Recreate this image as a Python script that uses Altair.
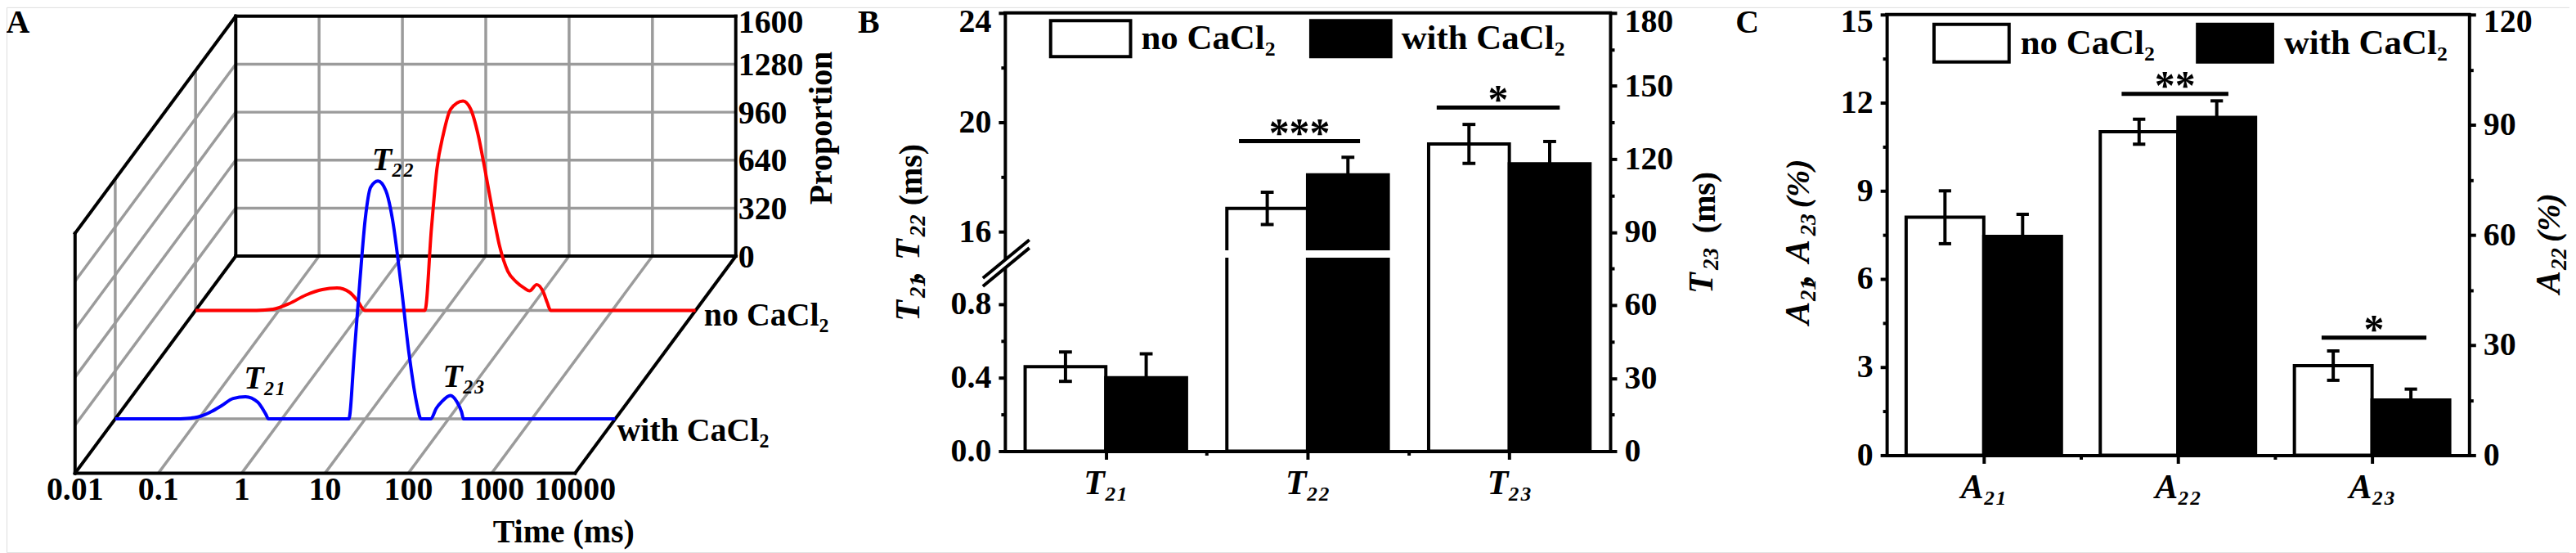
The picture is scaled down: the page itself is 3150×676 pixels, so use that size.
import json
import math
import altair as alt
import pandas as pd

OFF = 8                      # page margin: chart coordinate = reference pixel - OFF
W, H = 3150 - OFF, 676 - OFF
FONT = "Liberation Serif"
GRAY = "#9b9b9b"


def P(v):
    return v - OFF


# ======================= DATA =======================
# ---- Panel A : T2 relaxation spectra ----
time_ticks = [0.01, 0.1, 1, 10, 100, 1000, 10000]
time_tick_labels = ["0.01", "0.1", "1", "10", "100", "1000", "10000"]
prop_ticks = [0, 320, 640, 960, 1280, 1600]
prop_tick_labels = ["0", "320", "640", "960", "1280", "1600"]
series_names = ["no CaCl₂", "with CaCl₂"]
series_depth = [0.75, 0.25]
series_colors = ["#ff0000", "#0000ff"]
series_label_t = [12600, 10500]
series_label_p = [-38, -82]

red_t = [0.01, 0.054, 0.085, 0.134, 0.21, 0.331, 0.497, 0.703, 0.883, 1.07,
         5.65, 6.76, 7.87, 9.42, 11.5, 16.2, 20.0, 24.4, 29.6, 36.6, 44.6,
         55.8, 70.1, 87.9, 102, 124, 149, 166, 182, 10000]
red_p = [0, 0, 8, 46, 102, 139, 149, 121, 62, 0,
         0, 544, 943, 1178, 1342, 1396, 1342, 1178, 943, 662, 426,
         261, 191, 149, 130, 172, 121, 51, 0, 0]
blue_t = [0.01, 0.05, 0.0726, 0.106, 0.143, 0.19, 0.26, 0.366, 0.512, 0.641, 0.69,
          6.35, 7.4, 8.6, 10.0, 11.6, 14.2, 17.7, 21.2, 26.7, 33.4, 41.9, 46.6,
          61.2, 71.1, 82.6, 105, 126, 143, 151, 10000]
blue_p = [0, 0, 3, 18, 49, 89, 136, 148, 112, 31, 0,
          0, 442, 911, 1333, 1545, 1587, 1521, 1333, 911, 442, 90, 0,
          0, 70, 114, 156, 114, 47, 0, 0]
peak_labels = ["T₂₁", "T₂₂", "T₂₃"]
peak_label_t = [0.63, 21.6, 153]
peak_label_p = [269, 1722, 280]

# ---- Panel B : relaxation times ----
b_cats = ["T₂₁", "T₂₂", "T₂₃"]
b_sides = ["left", "left", "right"]
b_no_mean = [0.46, 16.85, 126.2]
b_no_sd = [0.08, 0.59, 8.0]
b_with_mean = [0.40, 18.08, 118.0]
b_with_sd = [0.13, 0.64, 9.2]
b_sig_labels = ["***", "*"]
b_sig_x1 = [1.16, 2.14]
b_sig_x2 = [1.76, 2.75]
b_sig_y = [19.31, 141.1]
b_sig_side = ["left", "right"]
b_left_ticks = [0, 0.4, 0.8, 16, 20, 24]
b_left_minor = [0.2, 0.6, 18, 22]
b_right_ticks = [0, 30, 60, 90, 120, 150, 180]
b_right_minor = [15, 45, 75, 105, 135, 165]

# ---- Panel C : peak areas ----
c_cats = ["A₂₁", "A₂₂", "A₂₃"]
c_sides = ["left", "right", "left"]
c_no_mean = [8.1, 88.1, 3.05]
c_no_sd = [0.9, 3.4, 0.5]
c_with_mean = [7.45, 92.0, 1.88]
c_with_sd = [0.75, 4.5, 0.37]
c_sig_labels = ["**", "*"]
c_sig_x1 = [1.21, 2.24]
c_sig_x2 = [1.76, 2.78]
c_sig_y = [98.4, 4.0]
c_sig_side = ["right", "left"]
c_left_ticks = [0, 3, 6, 9, 12, 15]
c_left_minor = [1.5, 4.5, 7.5, 10.5, 13.5]
c_right_ticks = [0, 30, 60, 90, 120]
c_right_minor = [15, 45, 75, 105]

units = []   # every unit chart, layered flat at the end

# ======================= PANEL A =======================
A_FRONT_LEFT, A_FRONT_RIGHT, A_BACK_LEFT = 92, 705, 289
A_FRONT_BOTTOM, A_BACK_BOTTOM, A_BACK_TOP = 579, 313, 19
LT0, LT1 = math.log10(time_ticks[0]), math.log10(time_ticks[-1])
PMAX = prop_ticks[-1]
DEC = (A_FRONT_RIGHT - A_FRONT_LEFT) / (LT1 - LT0)
DX = (A_BACK_LEFT - A_FRONT_LEFT) / DEC
UNIT = (A_BACK_BOTTOM - A_BACK_TOP) / PMAX
DY = (A_FRONT_BOTTOM - A_BACK_BOTTOM) / UNIT


def xsA():
    return alt.Scale(domain=[LT0, LT1 + DX],
                     range=[P(A_FRONT_LEFT), P(A_FRONT_LEFT) + (LT1 - LT0 + DX) * DEC],
                     nice=False, zero=False)


def ysA():
    return alt.Scale(domain=[0, PMAX + DY],
                     range=[P(A_FRONT_BOTTOM), P(A_FRONT_BOTTOM) - (PMAX + DY) * UNIT],
                     nice=False, zero=False)


inner_lt = [math.log10(t) for t in time_ticks[1:-1]]
inner_p = prop_ticks[1:-1]
gray_segs = []
for v in inner_p:
    gray_segs.append((LT0, v, 1, LT1, v, 1))      # back wall
    gray_segs.append((LT0, v, 0, LT0, v, 1))      # left wall
for lt in inner_lt:
    gray_segs.append((lt, 0, 1, lt, PMAX, 1))     # back wall verticals
    gray_segs.append((lt, 0, 0, lt, 0, 1))        # floor
for d in series_depth:
    gray_segs.append((LT0, 0, d, LT0, PMAX, d))   # left wall verticals
    gray_segs.append((LT0, 0, d, LT1, 0, d))      # floor rows
black_segs = [
    (LT0, 0, 1, LT1, 0, 1), (LT0, PMAX, 1, LT1, PMAX, 1),
    (LT0, 0, 1, LT0, PMAX, 1), (LT1, 0, 1, LT1, PMAX, 1),
    (LT0, PMAX, 0, LT0, PMAX, 1), (LT0, 0, 0, LT0, PMAX, 0),
    (LT0, 0, 0, LT0, 0, 1), (LT0, 0, 0, LT1, 0, 0), (LT1, 0, 0, LT1, 0, 1),
]


def seg_layer(segs, color, width, cap):
    df = pd.DataFrame(segs, columns=["lt1", "v1", "d1", "lt2", "v2", "d2"])
    return alt.Chart(df).transform_calculate(
        X1=f"datum.lt1 + datum.d1 * {DX}", Y1=f"datum.v1 + datum.d1 * {DY}",
        X2=f"datum.lt2 + datum.d2 * {DX}", Y2=f"datum.v2 + datum.d2 * {DY}",
    ).mark_rule(color=color, strokeWidth=width, strokeCap=cap).encode(
        x=alt.X("X1:Q", scale=xsA(), axis=None), y=alt.Y("Y1:Q", scale=ysA(), axis=None),
        x2="X2:Q", y2="Y2:Q")


def curve_layer(ts, ps, depth, color):
    df = pd.DataFrame({"t": ts, "p": ps, "depth": depth})
    return alt.Chart(df).transform_calculate(
        X=f"log(datum.t) / LN10 + datum.depth * {DX}", Y=f"datum.p + datum.depth * {DY}",
    ).mark_line(color=color, strokeWidth=4, interpolate="monotone").encode(
        x=alt.X("X:Q", scale=xsA(), axis=None), y=alt.Y("Y:Q", scale=ysA(), axis=None))


def proj_text(df, italic=False, **kw):
    mk = dict(font=FONT, fontSize=40, fontWeight="bold", color="black")
    if italic:
        mk["fontStyle"] = "italic"
    mk.update(kw)
    return alt.Chart(df).transform_calculate(
        X=f"log(datum.t) / LN10 + datum.depth * {DX}", Y=f"datum.p + datum.depth * {DY}",
    ).mark_text(**mk).encode(
        x=alt.X("X:Q", scale=xsA(), axis=None), y=alt.Y("Y:Q", scale=ysA(), axis=None),
        text="label:N")


def fixed_text(text, x, y, size=40, angle=None, italic=False, align="center", baseline="middle"):
    mk = dict(font=FONT, fontSize=size, fontWeight="bold", align=align, baseline=baseline, color="black")
    if italic:
        mk["fontStyle"] = "italic"
    if angle:
        mk["angle"] = angle
    return alt.Chart(pd.DataFrame({"label": [text]})).mark_text(**mk).encode(
        x=alt.value(P(x)), y=alt.value(P(y)), text="label:N")


def rotated_rich(pieces):
    """pieces: (text, size, italic, bottom_y, baseline_x) -> text read bottom-to-top."""
    return [fixed_text(t, bx, by, size=s, angle=270, italic=it, align="left", baseline="alphabetic")
            for (t, s, it, by, bx) in pieces]


tick_df = pd.DataFrame({"t": time_ticks, "label": time_tick_labels, "p": 0, "depth": 0})
prop_df = pd.DataFrame({"t": time_ticks[-1], "label": prop_tick_labels, "p": prop_ticks, "depth": 1})
ser_df = pd.DataFrame({"t": series_label_t, "label": series_names, "p": series_label_p,
                       "depth": series_depth})
peak_df = pd.DataFrame({"t": peak_label_t, "label": peak_labels, "p": peak_label_p,
                        "depth": series_depth[1]})

units += [
    seg_layer(gray_segs, GRAY, 3.5, "butt"),
    seg_layer(black_segs, "black", 4, "square"),
    curve_layer(red_t, red_p, series_depth[0], series_colors[0]),
    curve_layer(blue_t, blue_p, series_depth[1], series_colors[1]),
    proj_text(tick_df, baseline="middle", dy=20.5),
    proj_text(prop_df.iloc[:-1], align="left", baseline="middle", dx=3, dy=1.5),
    proj_text(prop_df.iloc[-1:], align="left", baseline="middle", dx=3, dy=8),
    proj_text(ser_df, align="left", baseline="middle"),
    proj_text(peak_df, italic=True, align="center", baseline="middle"),
    fixed_text("Proportion", 1008, 156, angle=270),
    fixed_text("Time (ms)", 691, 652),
]

# ======================= BAR PANELS =======================
BW = 0.4
CAP = 0.032


def axis(orient, offset, values, labels=True, domain=True, tick_size=8, label_expr=None,
         italic=False, size=40, pad=9, top_value=None, top_shift=0):
    kw = dict(orient=orient, offset=offset, values=values, labels=labels, domain=domain,
              ticks=True, tickSize=tick_size, tickWidth=4, tickColor="black",
              domainColor="black", domainWidth=4, domainCap="square",
              labelFont=FONT, labelFontSize=size, labelFontWeight="bold", labelColor="black",
              labelPadding=pad, grid=False, title=None, labelOverlap=False, labelFlush=False)
    if label_expr:
        kw["labelExpr"] = label_expr
    if italic:
        kw["labelFontStyle"] = "italic"
    if top_value is not None:
        kw["labelOffset"] = {"condition": {"test": f"datum.value == {top_value}", "value": top_shift},
                             "value": 0}
    return alt.Axis(**kw)


def legend(box_left, box_cy, box_w, box_h, lab_off, col_pad):
    r = box_h / box_w
    return alt.Legend(orient="none", legendX=P(box_left) - 2, legendY=P(box_cy) - (box_w + 4) / 2,
                      direction="horizontal", columns=2, title=None,
                      symbolType=f"M-1,-{r:.3f}H1V{r:.3f}H-1Z", symbolSize=box_w ** 2,
                      symbolStrokeColor="black", symbolStrokeWidth=4, symbolOpacity=1,
                      labelFont=FONT, labelFontSize=43, labelFontWeight="bold", labelColor="black",
                      labelOffset=lab_off, columnPadding=col_pad, padding=0, labelLimit=0,
                      offset=0, rowPadding=0)


def bar_df(cats, sides, nm, ns, wm, ws):
    rows = []
    for i, c in enumerate(cats):
        for k, (m, s) in enumerate([(nm[i], ns[i]), (wm[i], ws[i])]):
            rows.append(dict(i=i, cat=c, cond=series_names[k], k=k, m=m, s=s, side=sides[i]))
    return pd.DataFrame(rows)


def bar_units(df, side, xs, ys, yax, xax, leg, sig_df, after_bars=()):
    """xs, ys: functions returning fresh scale objects."""
    base = alt.Chart(df).transform_filter(alt.datum.side == side).transform_calculate(
        x1=f"datum.i + 0.5 + (datum.k - 1) * {BW}",
        x2=f"datum.i + 0.5 + datum.k * {BW}",
        xc=f"datum.i + 0.5 + (datum.k - 0.5) * {BW}",
        cl=f"datum.i + 0.5 + (datum.k - 0.5) * {BW} - {CAP}",
        cr=f"datum.i + 0.5 + (datum.k - 0.5) * {BW} + {CAP}",
        lo="datum.m - datum.s", hi="datum.m + datum.s", zero="0")
    bars = base.mark_bar(stroke="black", strokeWidth=4, strokeJoin="miter").encode(
        x=alt.X("x1:Q", scale=xs(), axis=xax), x2="x2:Q",
        y=alt.Y("m:Q", scale=ys(), axis=yax), y2="zero:Q",
        fill=alt.Fill("cond:N", scale=alt.Scale(domain=series_names, range=["white", "black"]),
                      legend=leg))
    err = base.mark_rule(color="black", strokeWidth=4).encode(
        x=alt.X("xc:Q", scale=xs(), axis=None), y=alt.Y("lo:Q", scale=ys(), axis=None), y2="hi:Q")
    cap_hi = base.mark_rule(color="black", strokeWidth=4).encode(
        x=alt.X("cl:Q", scale=xs(), axis=None), x2="cr:Q", y=alt.Y("hi:Q", scale=ys(), axis=None))
    cap_lo = base.mark_rule(color="black", strokeWidth=4).encode(
        x=alt.X("cl:Q", scale=xs(), axis=None), x2="cr:Q", y=alt.Y("lo:Q", scale=ys(), axis=None))
    sig = alt.Chart(sig_df).transform_filter(alt.datum.side == side).transform_calculate(
        xm="(datum.x1 + datum.x2) / 2")
    sig_rule = sig.mark_rule(color="black", strokeWidth=5).encode(
        x=alt.X("x1:Q", scale=xs(), axis=None), x2="x2:Q", y=alt.Y("y:Q", scale=ys(), axis=None))
    sig_text = sig.mark_text(font=FONT, fontSize=50, fontWeight="bold", color="black",
                             baseline="alphabetic", dy=6).encode(
        x=alt.X("xm:Q", scale=xs(), axis=None), y=alt.Y("y:Q", scale=ys(), axis=None), text="label:N")
    return [bars] + [f(xs, ys) for f in after_bars] + [err, cap_hi, cap_lo, sig_rule, sig_text]


def frame_top(xs, ys, n, top):
    return alt.Chart(pd.DataFrame({"x1": [0], "x2": [n], "y": [top]})).mark_rule(
        color="black", strokeWidth=4, strokeCap="square").encode(
        x=alt.X("x1:Q", scale=xs(), axis=None), x2="x2:Q", y=alt.Y("y:Q", scale=ys(), axis=None))


def minor_y(vals, ys, orient, offset):
    return alt.Chart(pd.DataFrame({"v": vals})).mark_point(opacity=0).encode(
        y=alt.Y("v:Q", scale=ys(), axis=axis(orient, offset, vals, labels=False, domain=False,
                                              tick_size=5)))


def minor_x(vals, xs, offset):
    return alt.Chart(pd.DataFrame({"v": vals})).mark_point(opacity=0).encode(
        x=alt.X("v:Q", scale=xs(), axis=axis("bottom", offset, vals, labels=False, domain=False,
                                              tick_size=5)))


def sig_frame(labels, x1, x2, y, side):
    return pd.DataFrame({"label": labels, "x1": x1, "x2": x2, "y": y, "side": side})


# ---- Panel B ----
B_LEFT, B_RIGHT, B_BOTTOM, B_TOP = 1232, 1974, 552, 15
B_Y_08, B_Y_16 = 372, 283          # reference rows of the 0.8 and 16 ticks
B_GAP_TOP, B_GAP_BOT = 306, 315     # white break band
low_ppu = (B_BOTTOM - B_Y_08) / b_left_ticks[2]
up_ppu = (B_Y_16 - B_TOP) / (b_left_ticks[-1] - b_left_ticks[3])
B_BRK_LO = (B_BOTTOM - B_GAP_BOT) / low_ppu
B_BRK_HI = b_left_ticks[3] - (B_GAP_TOP - B_Y_16) / up_ppu
nB = len(b_cats)


def xsB():
    return alt.Scale(domain=[0, nB], range=[P(B_LEFT), P(B_RIGHT)], nice=False, zero=False)


def ysBL():
    return alt.Scale(domain=[0, B_BRK_LO, B_BRK_HI, b_left_ticks[-1]],
                     range=[P(B_BOTTOM), P(B_GAP_BOT), P(B_GAP_TOP), P(B_TOP)],
                     nice=False, zero=False)


def ysBR():
    return alt.Scale(domain=[0, b_right_ticks[-1]], range=[P(B_BOTTOM), P(B_TOP)],
                     nice=False, zero=False)


dfB = bar_df(b_cats, b_sides, b_no_mean, b_no_sd, b_with_mean, b_with_sd)
sigB = sig_frame(b_sig_labels, b_sig_x1, b_sig_x2, b_sig_y, b_sig_side)
cat_exprB = json.dumps(b_cats, ensure_ascii=False) + "[floor(datum.value)]"
cat_exprC = json.dumps(c_cats, ensure_ascii=False) + "[floor(datum.value)]"
centers = [i + 0.5 for i in range(nB)]
bounds = [i for i in range(1, nB)]

gap_i = 1
gapB = pd.DataFrame({"x1": [gap_i + 0.5 - BW - 0.03], "x2": [gap_i + 0.5 + BW + 0.03],
                     "y1": [B_BRK_LO], "y2": [B_BRK_HI]})


def gap_layer(xs, ys):
    return alt.Chart(gapB).mark_rect(color="white").encode(
        x=alt.X("x1:Q", scale=xs(), axis=None), x2="x2:Q",
        y=alt.Y("y1:Q", scale=ys(), axis=None), y2="y2:Q")


brk = pd.DataFrame({"x": [0], "y": [B_BRK_LO]})
brk_white = alt.Chart(brk).mark_point(shape="M-0.95,1.05L1.05,-0.6", size=3249, filled=False,
                                      stroke="white", strokeWidth=6, opacity=1).encode(
    x=alt.X("x:Q", scale=xsB(), axis=None), y=alt.Y("y:Q", scale=ysBL(), axis=None))
brk_black = alt.Chart(brk).mark_point(shape="M-0.95,0.88L1.05,-0.77M-0.95,1.23L1.05,-0.42",
                                      size=3249, filled=False, stroke="black", strokeWidth=4,
                                      opacity=1).encode(
    x=alt.X("x:Q", scale=xsB(), axis=None), y=alt.Y("y:Q", scale=ysBL(), axis=None))

yaxBL = axis("left", -P(B_LEFT), b_left_ticks,
             label_expr="datum.value < 2 ? format(datum.value, '.1f') : format(datum.value, 'd')",
             top_value=b_left_ticks[-1], top_shift=11)
yaxBR = axis("right", -(W - P(B_RIGHT)), b_right_ticks, top_value=b_right_ticks[-1], top_shift=11)
xaxB = axis("bottom", -(H - P(B_BOTTOM)), centers, tick_size=10, label_expr=cat_exprB,
            italic=True, size=42, pad=9)

units += bar_units(dfB, "left", xsB, ysBL, yaxBL, xaxB, legend(1288, 46, 98, 44, 11, 35), sigB,
                   after_bars=(gap_layer,))
units += [frame_top(xsB, ysBL, nB, b_left_ticks[-1]), brk_white, brk_black]
units += bar_units(dfB, "right", xsB, ysBR, yaxBR, None, None, sigB)
units += [minor_y(b_left_minor, ysBL, "left", -P(B_LEFT)),
          minor_y(b_right_minor, ysBR, "right", -(W - P(B_RIGHT))),
          minor_x(bounds, xsB, -(H - P(B_BOTTOM)))]

# ---- Panel C ----
C_LEFT, C_RIGHT, C_BOTTOM, C_TOP = 2313, 3027, 557, 17
nC = len(c_cats)


def xsC():
    return alt.Scale(domain=[0, nC], range=[P(C_LEFT), P(C_RIGHT)], nice=False, zero=False)


def ysCL():
    return alt.Scale(domain=[0, c_left_ticks[-1]], range=[P(C_BOTTOM), P(C_TOP)], nice=False, zero=False)


def ysCR():
    return alt.Scale(domain=[0, c_right_ticks[-1]], range=[P(C_BOTTOM), P(C_TOP)], nice=False, zero=False)


dfC = bar_df(c_cats, c_sides, c_no_mean, c_no_sd, c_with_mean, c_with_sd)
sigC = sig_frame(c_sig_labels, c_sig_x1, c_sig_x2, c_sig_y, c_sig_side)
yaxCL = axis("left", -P(C_LEFT), c_left_ticks, top_value=c_left_ticks[-1], top_shift=9)
yaxCR = axis("right", -(W - P(C_RIGHT)), c_right_ticks, top_value=c_right_ticks[-1], top_shift=9)
xaxC = axis("bottom", -(H - P(C_BOTTOM)), centers, tick_size=10, label_expr=cat_exprC,
            italic=True, size=42, pad=9)

units += bar_units(dfC, "left", xsC, ysCL, yaxCL, xaxC, legend(2371, 52, 92, 46, 12, 44), sigC)
units += [frame_top(xsC, ysCL, nC, c_left_ticks[-1])]
units += bar_units(dfC, "right", xsC, ysCR, yaxCR, None, None, sigC)
units += [minor_y(c_left_minor, ysCL, "left", -P(C_LEFT)),
          minor_y(c_right_minor, ysCR, "right", -(W - P(C_RIGHT))),
          minor_x(bounds, xsC, -(H - P(C_BOTTOM)))]

# ---- axis titles (rich text, read bottom to top) & panel letters ----
units += [fixed_text("A", 22, 27), fixed_text("B", 1065, 27), fixed_text("C", 2142, 27)]
units += rotated_rich([
    ("T", 42, True, 393, 1127), ("21", 27, True, 364, 1134), (",", 42, True, 342, 1127),
    ("T", 42, True, 318, 1127), ("22", 27, True, 289, 1134), ("(ms)", 40, False, 251, 1130),
])
units += rotated_rich([
    ("T", 42, True, 359, 2099), ("23", 27, True, 330, 2106), ("(ms)", 40, False, 285, 2102),
])
units += rotated_rich([
    ("A", 42, True, 397, 2218), ("21", 27, True, 368, 2226), (",", 42, True, 346, 2218),
    ("A", 42, True, 321, 2218), ("23", 27, True, 288, 2226), ("(%)", 40, True, 254, 2218),
])
units += rotated_rich([
    ("A", 42, True, 359, 3138), ("22", 27, True, 330, 3146), ("(%)", 40, True, 296, 3138),
])

chart = alt.layer(*units).resolve_scale(
    x="independent", y="independent", fill="independent"
).resolve_legend(fill="independent").properties(
    width=W, height=H, padding=0, autosize=alt.AutoSizeParams(type="none")
).configure_view(stroke=None).configure(background="white")

chart.save("out.html", embed_options={"renderer": "svg", "actions": False})
